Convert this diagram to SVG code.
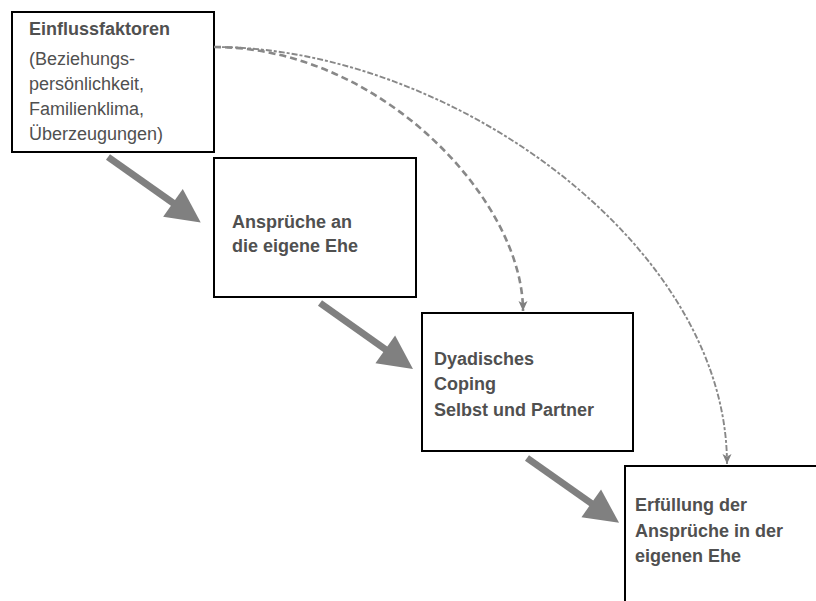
<svg xmlns="http://www.w3.org/2000/svg" width="816" height="601" viewBox="0 0 816 601">
<style>
.box{fill:#fff;stroke:#000;stroke-width:2}
.t{font-family:"Liberation Sans",Arial,sans-serif;font-size:18px;fill:#505050}
.b{font-weight:bold}
.thick{stroke:#808080;stroke-width:7;fill:none;marker-end:url(#bigHead)}
.dashA{stroke:#888;stroke-width:2.6;fill:none;stroke-dasharray:7 4;marker-end:url(#smallHead)}
.dashB{stroke:#888;stroke-width:1.9;fill:none;stroke-dasharray:6 2 3 2;marker-end:url(#smallHead)}
</style>
<defs>
<marker id="bigHead" markerUnits="userSpaceOnUse" markerWidth="34" markerHeight="34" viewBox="0 0 32 32" refX="2" refY="16" orient="auto" overflow="visible">
<path d="M0,0 L32,16 L0,32 Z" fill="#808080"/>
</marker>
<marker id="smallHead" markerUnits="userSpaceOnUse" markerWidth="10" markerHeight="10" viewBox="0 0 10 10" refX="10" refY="5" orient="auto" overflow="visible">
<path d="M0,0.5 L10,5 L0,9.5 L2.5,5 Z" fill="#808080"/>
</marker>
</defs>
<rect width="816" height="601" fill="#fff"/>
<g id="node-einfluss">
<rect class="box" x="12" y="12" width="202" height="140"/>
<text class="t b" x="29" y="35">Einflussfaktoren</text>
<text class="t" x="29" y="65">(Beziehungs-</text>
<text class="t" x="29" y="90">persönlichkeit,</text>
<text class="t" x="29" y="115">Familienklima,</text>
<text class="t" x="29" y="140">Überzeugungen)</text>
</g>
<g id="node-ansprueche">
<rect class="box" x="214" y="158" width="202" height="139"/>
<text class="t b" x="232" y="228">Ansprüche an</text>
<text class="t b" x="232" y="252">die eigene Ehe</text>
</g>
<g id="node-coping">
<rect class="box" x="422" y="313" width="211" height="138"/>
<text class="t b" x="434" y="365">Dyadisches</text>
<text class="t b" x="434" y="390">Coping</text>
<text class="t b" x="434" y="416">Selbst und Partner</text>
</g>
<g id="node-erfuellung">
<rect class="box" x="625" y="466" width="210" height="150"/>
<text class="t b" x="635" y="511">Erfüllung der</text>
<text class="t b" x="635" y="537">Ansprüche in der</text>
<text class="t b" x="635" y="562">eigenen Ehe</text>
</g>
<g id="connectors">
<path class="thick" d="M108,157 L174.7,204.1"/>
<path class="thick" d="M320,303 L387,350.5"/>
<path class="thick" d="M527,458 L593,504.5"/>
<path class="dashA" d="M214,47 C380,47 523,200 523,311"/>
<path class="dashB" d="M214,47 C450,47 727,245 727,464"/>
</g>
</svg>
